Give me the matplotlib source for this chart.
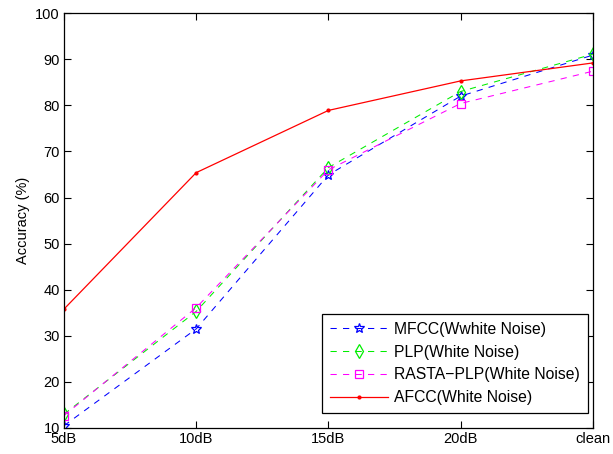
import matplotlib
matplotlib.use("Agg")
import matplotlib.pyplot as plt

categories = ["5dB", "10dB", "15dB", "20dB", "clean"]
mfcc = [10.5, 31.5, 64.9, 82.0, 90.9]
plp = [13.0, 35.3, 66.5, 83.0, 91.1]
rasta = [12.7, 36.1, 66.0, 80.4, 87.4]
afcc = [35.8, 65.4, 78.9, 85.3, 89.2]
yticks = [10, 20, 30, 40, 50, 60, 70, 80, 90, 100]

plt.rcParams['font.family'] = ['Liberation Sans', 'DejaVu Sans']
fig = plt.figure(figsize=(6.13, 4.54), dpi=100)
ax = fig.add_axes([0.1044, 0.0573, 0.8626, 0.9137])
x = list(range(len(categories)))

dash = (0, (6, 6))
ax.plot(x, mfcc, color='blue', linestyle=dash, lw=0.75, marker='*', ms=7,
        mfc='none', mec='blue', mew=0.9, label='MFCC(Wwhite Noise)')
ax.plot(x, plp, color='#00ee00', linestyle=dash, lw=0.75, marker='d', ms=7,
        mfc='none', mec='#00ee00', mew=0.9, label='PLP(White Noise)')
ax.plot(x, rasta, color='magenta', linestyle=dash, lw=0.75, marker='s', ms=6,
        mfc='none', mec='magenta', mew=0.9, label='RASTA\u2212PLP(White Noise)')
ax.plot(x, afcc, color='red', linestyle='-', lw=0.9, marker='.', ms=4,
        label='AFCC(White Noise)')

ax.set_xlim(0, 4)
ax.set_ylim(10, 100)
ax.set_xticks(x)
ax.set_xticklabels(categories)
ax.set_yticks(yticks)
ax.tick_params(direction='in', top=True, right=True, labelsize=10.5, length=5, pad=3)
ax.set_ylabel('Accuracy (%)', fontsize=10.5)
for s in ax.spines.values():
    s.set_linewidth(0.9)

leg = ax.legend(loc='lower right', bbox_to_anchor=(0.9905, 0.036), borderaxespad=0,
                fontsize=11.3, handlelength=3.7, handletextpad=0.4, frameon=True,
                fancybox=False, edgecolor='black', framealpha=1,
                labelspacing=0.5, borderpad=0.5)
leg.get_frame().set_linewidth(0.9)

fig.savefig('out.png', dpi=100)
